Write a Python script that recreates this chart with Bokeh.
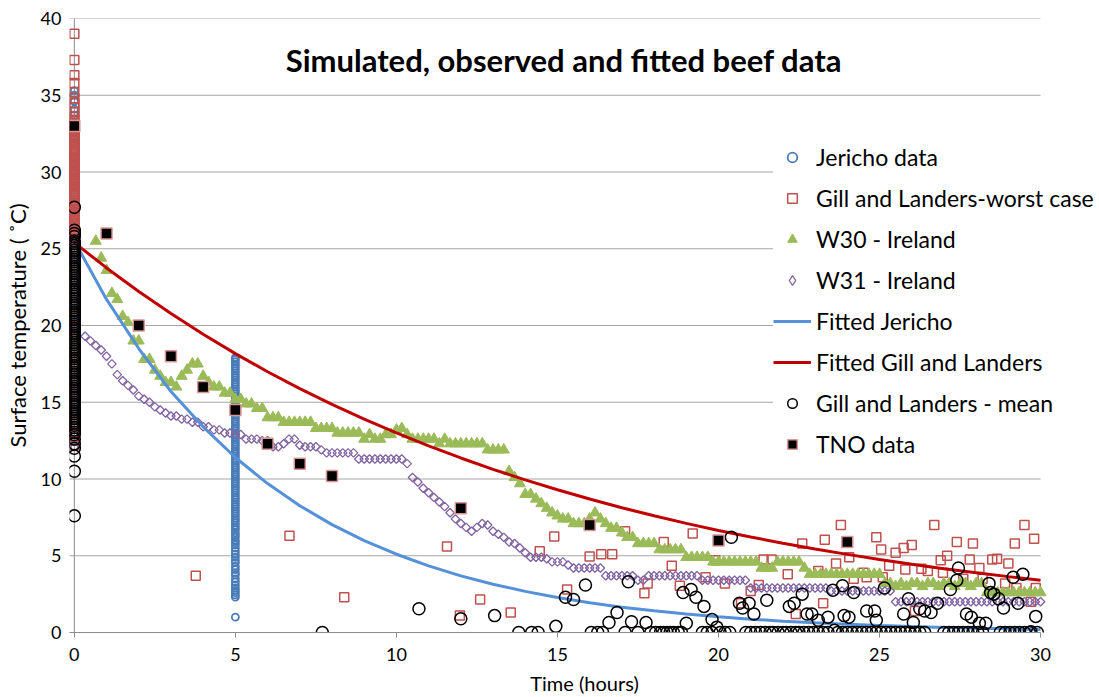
from bokeh.plotting import figure
from bokeh.models import Range1d, FixedTicker, Legend, LegendItem, Label, Span
from bokeh.embed import file_html
from bokeh.resources import INLINE

FONT = "Lato"

# ---------------- data ----------------
x_ticks = [0, 5, 10, 15, 20, 25, 30]
y_ticks = [0, 5, 10, 15, 20, 25, 30, 35, 40]
x_axis_end = 30

# Jericho data: readings at t = 0 h and t = 5 h
jericho_y0 = [12.1, 12.6, 13.0, 13.5, 14.1, 14.6, 15.0, 15.5, 16.1, 16.6, 17.0, 17.5, 18.0,
              18.6, 19.1, 19.5, 20.0, 20.6, 21.0, 21.5, 22.1, 22.5, 23.0, 23.6, 24.0, 24.5,
              25.0, 25.5, 26.1, 26.6, 27.0, 27.5, 28.0, 28.6, 29.1, 29.5, 30.0, 30.6, 31.0,
              31.4, 31.9, 32.3, 32.8, 33.2, 33.7, 34.1, 34.6, 35.0, 35.3]
jericho_y5 = [1.0, 2.3, 2.45, 2.6, 2.75, 2.9, 3.1, 3.3, 3.5, 3.75, 3.9, 4.1, 4.3, 4.55, 4.7,
              4.9, 5.1, 5.3, 5.5, 5.7, 5.85, 6.0, 6.2, 6.35, 6.5, 6.7, 6.85, 7.0, 7.15, 7.3,
              7.45, 7.6, 7.75, 7.9, 8.05, 8.2, 8.35, 8.5, 8.65, 8.8, 8.95, 9.1, 9.25, 9.4,
              9.55, 9.7, 9.85, 10.0, 10.15, 10.3, 10.45, 10.6, 10.75, 10.9, 11.05, 11.2,
              11.35, 11.5, 11.65, 11.8, 11.95, 12.1, 12.25, 12.4, 12.55, 12.7, 12.85, 13.0,
              13.15, 13.3, 13.45, 13.6, 13.75, 13.9, 14.05, 14.2, 14.35, 14.5, 14.65, 14.8,
              14.95, 15.1, 15.25, 15.4, 15.55, 15.7, 15.85, 16.0, 16.15, 16.3, 16.45, 16.6,
              16.75, 16.9, 17.05, 17.2, 17.35, 17.5, 17.65, 17.8, 17.9]

# Gill and Landers - worst case: readings at t = 0 and scattered later readings
gill_worst_y0 = [39.0, 37.3, 36.3, 35.8, 35.2, 34.8, 34.5, 34.2, 33.9, 33.6, 33.4,
                 33.2, 33.1, 33.0, 32.9, 32.8, 32.7, 32.6, 32.5, 32.4, 32.3, 32.2, 32.1,
                 32.0, 31.9, 31.8, 31.7, 31.6, 31.5, 31.4, 31.3, 31.2, 31.1, 31.0, 30.9,
                 30.8, 30.7, 30.6, 30.5, 30.4, 30.3, 30.2, 30.1, 30.0, 29.9, 29.8, 29.7,
                 29.6, 29.5, 29.4, 29.3, 29.2, 29.1, 29.0, 28.9, 28.8, 28.7, 28.6, 28.5,
                 28.4, 28.3, 28.2, 28.1, 28.0, 27.9, 27.8, 27.7, 27.6, 27.5, 27.4, 27.3,
                 27.2, 27.1, 27.0, 26.9, 26.8, 26.7, 26.6, 26.5, 26.4, 26.3, 26.2, 26.1,
                 26.0, 25.7, 25.4, 25.1, 24.8, 24.5, 24.2, 23.9,
                 23.6, 23.3, 23.0, 22.7, 22.4, 22.1, 21.8, 21.5, 21.2, 20.9, 20.6, 20.3,
                 20.0, 19.7, 19.4, 19.1, 18.8, 18.5, 18.2, 17.9, 17.6, 17.3, 17.0, 16.7,
                 16.4, 16.1, 15.8, 15.5, 15.2, 14.9, 14.6, 14.3, 14.0, 13.7, 13.4, 13.1,
                 12.8, 12.5, 12.2]
gill_worst_t = [3.77, 6.68, 8.38, 11.57, 11.97, 12.6, 13.55, 14.45, 14.9, 15.3, 16.0, 16.36,
                16.7, 17.1, 17.7, 17.8, 18.3, 18.55, 18.8, 19.2, 19.6, 19.9, 20.2, 20.7,
                21.0, 21.25, 21.4, 21.65, 22.15, 22.4, 22.6, 23.1, 23.25, 23.3, 23.65,
                23.8, 24.06, 24.2, 24.5, 24.6, 24.9, 25.05, 25.1, 25.3, 25.5, 25.75, 25.8,
                26.0, 26.1, 26.3, 26.5, 26.7, 26.9, 26.97, 27.1, 27.4, 27.6, 27.8, 27.9,
                28.1, 28.2, 28.5, 28.65, 28.9, 29.0, 29.2, 29.25, 29.5, 29.7, 29.8, 29.85]
gill_worst_y = [3.7, 6.3, 2.3, 5.6, 1.1, 2.15, 1.3, 5.3, 6.25, 2.8, 4.95, 5.1,
                5.1, 6.6, 2.55, 3.2, 5.9, 4.35, 3.05, 6.45, 3.6, 4.7, 3.2, 1.9,
                2.7, 3.1, 4.75, 4.75, 3.8, 1.2, 5.8, 4.0, 1.9, 6.05, 4.5,
                7.0, 4.9, 3.5, 3.9, 3.6, 6.2, 5.4, 3.6, 4.35, 5.2, 5.5, 4.1,
                5.7, 1.4, 4.15, 4.0, 7.0, 4.7, 3.9, 5.0, 5.9, 3.5, 4.75, 5.8,
                4.2, 3.5, 4.75, 4.8, 3.2, 4.5, 5.8, 2.9, 7.0, 2.0, 6.1, 2.9]

# W30 - Ireland: 10-minute readings starting at 0.667 h
w30_start = 0.667
w30_step = 1 / 6
w30_y = [25.5, 24.4, 23.6, 22.1, 21.7, 20.6,
         20.2, 19.0, 19.0, 17.8, 17.8, 17.1,
         16.7, 16.3, 16.3, 16.0, 16.7, 17.1,
         17.5, 17.5, 16.7, 16.3, 16.0, 16.0,
         15.6, 15.6, 15.2, 15.2, 14.9, 14.9,
         14.6, 14.6, 14.0, 14.0, 14.0, 13.7,
         13.7, 13.7, 13.7, 13.7, 13.7, 13.3,
         13.3, 13.3, 13.3, 13.0, 13.0, 13.0,
         13.0, 13.0, 12.6, 12.9, 12.6, 12.6,
         12.9, 12.9, 13.2, 13.3, 12.9, 12.6,
         12.6, 12.6, 12.6, 12.6, 12.3, 12.6,
         12.3, 12.3, 12.3, 12.3, 12.3, 12.3,
         12.3, 11.9, 11.9, 11.9, 11.9, 10.5,
         10.1, 9.7, 9.0, 9.0, 8.7, 8.4,
         8.1, 7.8, 7.6, 7.4, 7.4, 7.1,
         7.1, 7.1, 7.4, 7.8, 7.4, 7.1,
         6.8, 6.8, 6.5, 6.2, 6.2, 5.8,
         5.8, 5.8, 5.8, 5.4, 5.4, 5.4,
         5.4, 5.4, 4.9, 4.9, 4.9, 4.9,
         4.9, 4.6, 4.6, 4.6, 4.6, 4.6,
         4.6, 4.6, 4.6, 4.6, 4.2, 4.2,
         4.2, 4.6, 4.6, 4.6, 4.6, 4.6,
         4.2, 3.8, 3.8, 3.8, 3.8, 3.8,
         3.8, 3.8, 3.8, 3.8, 3.8, 3.8,
         3.8, 3.8, 3.8, 3.2, 3.2, 3.0,
         3.2, 3.0, 3.2, 3.2, 3.0, 3.2,
         3.2, 3.0, 3.2, 3.2, 3.0, 3.2,
         3.2, 3.0, 3.2, 3.2, 2.6, 2.6,
         2.6, 2.6, 2.6, 2.6, 2.6, 2.6,
         2.6, 2.6, 2.6]

# W31 - Ireland: 10-minute readings starting at 0.333 h
w31_start = 0.333
w31_step = 1 / 6
w31_y = [19.3, 19.0, 18.7, 18.4, 18.0, 17.5,
         16.8, 16.4, 16.1, 15.8, 15.4, 15.2,
         15.0, 14.7, 14.5, 14.3, 14.1, 14.1,
         13.9, 13.9, 13.7, 13.7, 13.4, 13.4,
         13.2, 13.2, 13.0, 13.0, 12.9, 12.9,
         12.6, 12.6, 12.6, 12.5, 12.5, 12.1,
         12.1, 12.3, 12.6, 12.6, 12.2, 12.1,
         12.1, 12.1, 11.9, 11.7, 11.7, 11.7,
         11.7, 11.7, 11.7, 11.3, 11.3, 11.3,
         11.3, 11.3, 11.3, 11.3, 11.3, 11.3,
         11.0, 10.1, 9.8, 9.4, 9.1, 8.8,
         8.5, 8.2, 7.8, 7.4, 7.1, 6.85,
         6.6, 6.85, 7.1, 7.0, 6.6, 6.4,
         6.2, 5.9, 5.8, 5.5, 5.2, 4.9,
         4.9, 4.9, 4.8, 4.6, 4.6, 4.6,
         4.4, 4.2, 4.2, 4.2, 4.2, 4.2,
         4.2, 3.7, 3.7, 3.7, 3.7, 3.7,
         3.7, 3.4, 3.4, 3.7, 3.7, 3.7,
         3.7, 3.7, 3.7, 3.7, 3.7, 3.7,
         3.7, 3.4, 3.4, 3.4, 3.4, 3.4,
         3.4, 3.4, 3.4, 3.4, 2.9, 2.9,
         2.9, 2.9, 2.9, 2.9, 2.9, 2.9,
         2.9, 2.9, 2.9, 2.9, 2.9, 2.9,
         2.9, 2.7, 2.7, 2.7, 2.7, 2.7,
         2.7, 2.7, 2.7, 2.7, 2.7, 2.7,
         2.7, 2.0, 2.0, 2.0, 2.0, 2.0,
         2.0, 2.0, 2.0, 2.0, 2.0, 2.0,
         2.0, 2.0, 2.0, 2.0, 2.0, 2.0,
         2.0, 2.0, 2.0, 2.0, 2.0, 2.0,
         2.0, 2.0, 2.0, 2.0, 2.0]

# Fitted curves, read hourly
fit_t = list(range(0, 31))
fit_jericho = [25.5, 21.7, 18.5, 15.7, 13.4, 11.4, 9.7, 8.26, 7.03, 5.99, 5.1, 4.34, 3.69,
               3.14, 2.68, 2.28, 1.94, 1.65, 1.41, 1.2, 1.02, 0.87, 0.74, 0.63, 0.54, 0.46,
               0.39, 0.33, 0.28, 0.24, 0.2]
fit_gill = [25.4, 23.75, 22.22, 20.78, 19.43, 18.17, 16.99, 15.89, 14.86, 13.9, 13.0, 12.16,
            11.37, 10.63, 9.94, 9.3, 8.7, 8.13, 7.61, 7.11, 6.65, 6.22, 5.82, 5.44, 5.09,
            4.76, 4.45, 4.16, 3.89, 3.64, 3.4]

# Gill and Landers - mean: readings at t = 0 and scattered later readings
gill_mean_y0 = [7.6, 10.5, 11.5, 12.0, 12.3, 12.6, 12.9,
                13.05, 13.2, 13.35, 13.5, 13.65, 13.8, 13.95, 14.1, 14.25, 14.4, 14.55,
                14.7, 14.85, 15.0, 15.15, 15.3, 15.45, 15.6, 15.75, 15.9, 16.05, 16.2,
                16.35, 16.5, 16.65, 16.8, 16.95, 17.1, 17.25, 17.4, 17.55, 17.7, 17.85,
                18.0, 18.15, 18.3, 18.45, 18.6, 18.75, 18.9, 19.05, 19.2, 19.35, 19.5,
                19.65, 19.8, 19.95, 20.1, 20.25, 20.4, 20.55, 20.7, 20.85, 21.0, 21.15,
                21.3, 21.45, 21.6, 21.75, 21.9, 22.05, 22.2, 22.35, 22.5, 22.65, 22.8,
                22.95, 23.1, 23.25, 23.4, 23.55, 23.7, 23.85, 24.0, 24.15, 24.3, 24.45,
                24.6, 24.75, 24.9, 25.05, 25.2, 25.35, 25.5, 25.8, 26.0, 26.2, 27.7]
gill_mean_t = [7.7, 10.7, 12.0, 13.05, 13.8, 14.2, 14.4, 14.95, 15.25, 15.5, 15.87, 16.05,
               16.25, 16.4, 16.6, 16.85, 17.1, 17.2, 17.3, 17.5, 17.75, 17.9, 18.05, 18.2,
               18.3, 18.4, 18.5, 18.6, 18.75, 18.85, 18.9, 19.0, 19.15, 19.3, 19.55, 19.5,
               19.65, 19.8, 19.8, 19.95, 20.05, 20.2, 20.35, 20.4, 20.65, 20.75, 20.85,
               20.95, 21.0, 21.1, 21.15, 21.3, 21.45, 21.5, 21.6, 21.7, 21.85, 22.0, 22.1,
               22.2, 22.25, 22.35, 22.4, 22.5, 22.6, 22.65, 22.75, 22.8, 22.9, 22.95,
               23.1, 23.1, 23.25, 23.4, 23.4, 23.55, 23.6, 23.7, 23.85, 23.85, 23.9, 24.0,
               24.05, 24.15, 24.2, 24.3, 24.45, 24.6, 24.6, 24.75, 24.85, 24.9, 24.9, 25.05,
               25.15, 25.2, 25.35, 25.5, 25.65, 25.75, 25.8, 25.9, 25.95, 26.05, 26.1,
               26.25, 26.25, 26.4, 26.4, 26.6, 26.8, 27.0, 27.15, 27.2, 27.3, 27.4, 27.45,
               27.45, 27.6, 27.7, 27.75, 27.85, 27.9, 28.05, 28.1, 28.2, 28.3, 28.4, 28.45,
               28.55, 28.7, 28.75, 28.85, 28.9, 29.05, 29.15, 29.2, 29.3, 29.35, 29.45,
               29.5, 29.65, 29.7, 29.85, 29.9]
gill_mean_y = [0.0, 1.55, 0.9, 1.1, 0.0, 0.0, 0.0, 0.4, 2.3, 2.15, 3.1, 0.0,
               0.0, 0.0, 0.65, 1.3, 0.0, 3.3, 0.7, 0.0, 0.65, 0.0, 0.0, 0.0,
               0.0, 0.0, 0.0, 0.0, 0.0, 0.0, 2.6, 0.6, 2.8, 2.3, 1.7, 0.0,
               0.0, 0.85, 0.0, 0.35, 0.0, 0.0, 0.0, 6.2, 1.9, 1.6, 0.0,
               1.9, 0.0, 1.2, 0.0, 0.0, 0.0, 2.1, 0.0, 0.0, 0.0, 0.0, 0.0,
               1.7, 0.0, 1.9, 0.0, 0.0, 2.5, 0.0, 1.2, 0.0, 1.2, 0.0,
               0.8, 0.0, 0.0, 1.0, 0.0, 2.75, 0.15, 0.0, 3.05, 0.0, 1.1, 0.0,
               1.0, 0.0, 2.6, 0.0, 0.0, 1.4, 0.0, 0.0, 1.4, 0.8, 0.0, 0.0,
               2.9, 0.0, 0.0, 0.0, 0.0, 1.2, 0.0, 2.2, 0.0, 0.65, 0.0,
               1.55, 0.0, 1.4, 0.0, 1.3, 1.9, 0.0, 0.0, 2.8, 0.0, 3.4, 4.2,
               0.0, 0.0, 1.2, 0.0, 1.0, 0.0, 0.0, 0.6, 0.0, 0.6, 3.2, 2.6,
               2.5, 2.2, 0.0, 1.6, 0.0, 0.0, 3.6, 0.0, 1.9, 0.0, 3.8,
               0.0, 0.0, 0.05, 1.05, 0.0]

# TNO data
tno_t = [0, 1, 2, 3, 4, 5, 6, 7, 8, 12, 16, 20, 24]
tno_y = [33.0, 26.0, 20.0, 18.0, 16.0, 14.5, 12.3, 11.0, 10.2, 8.1, 7.0, 6.0, 5.9]

title_text = "Simulated, observed and fitted beef data"
x_label = "Time (hours)"
y_label = "Surface temperature ( \u02daC)"

# ---------------- assemble series ----------------
jericho_t = [0.0] * len(jericho_y0) + [5.0] * len(jericho_y5)
jericho_y = jericho_y0 + jericho_y5
gw_t = [0.0] * len(gill_worst_y0) + gill_worst_t
gw_y = gill_worst_y0 + gill_worst_y
w30_t = [round(w30_start + i * w30_step, 3) for i in range(len(w30_y))]
w31_t = [round(w31_start + i * w31_step, 3) for i in range(len(w31_y))]
gm_t = [0.0] * len(gill_mean_y0) + gill_mean_t
gm_y = gill_mean_y0 + gill_mean_y

AXIS_GREY = "#8C8C8C"
GRID_GREY = "#A6A6A6"
X_START = -0.15   # a little room left of t = 0 so markers there are not cut
X_END = 31.83     # frame runs on under the legend, which overhangs the 30 h edge

# ---------------- figure ----------------
p = figure(width=1099, height=697, x_range=Range1d(X_START, X_END), y_range=Range1d(0, 40),
           output_backend="svg", toolbar_location=None,
           min_border_left=66, min_border_right=0, min_border_top=18, min_border_bottom=65)
p.outline_line_color = None
p.xgrid.grid_line_color = None
p.ygrid.grid_line_color = None

for ax, ticks in ((p.xaxis, x_ticks), (p.yaxis, y_ticks)):
    ax.ticker = FixedTicker(ticks=ticks)
    ax.axis_line_color = AXIS_GREY
    ax.major_tick_line_color = AXIS_GREY
    ax.major_tick_out = 5
    ax.major_tick_in = 0
    ax.minor_tick_line_color = None
    ax.major_label_text_font = FONT
    ax.major_label_text_font_size = "18px"
    ax.major_label_text_color = "#000000"
    ax.axis_label_text_font = FONT
    ax.axis_label_text_font_style = "normal"
    ax.axis_label_text_color = "#000000"

p.xaxis.bounds = (X_START, x_axis_end)
p.xaxis.axis_label_text_font_size = "20px"
p.yaxis.axis_label_text_font_size = "22px"
p.yaxis.axis_line_color = None
p.yaxis.major_tick_out = 0
p.xaxis.axis_label = x_label
p.yaxis.axis_label = y_label
p.xaxis.major_label_standoff = 10
p.xaxis.axis_label_standoff = 7
p.yaxis.major_label_standoff = 8
p.yaxis.axis_label_standoff = 7

# horizontal gridlines (stop at 30 h) and vertical axis line at t = 0
grid_y = [v for v in y_ticks if v > 0]
p.segment(x0=[X_START] * len(grid_y), y0=grid_y, x1=[x_axis_end] * len(grid_y), y1=grid_y,
          line_color=GRID_GREY, line_width=1, level="underlay")
p.add_layout(Span(location=0, dimension="height", line_color=AXIS_GREY, line_width=1,
                  level="underlay"))

r_jer = p.scatter(jericho_t, jericho_y, marker="circle", size=7, fill_color=None,
                  line_color="#4A7CB8", line_width=1.8)
r_gw = p.scatter(gw_t, gw_y, marker="square", size=9, fill_color=None,
                 line_color="#C0504D", line_width=1.5)
r_w30 = p.scatter(w30_t, w30_y, marker="triangle", size=11, fill_color="#9BBB59",
                  line_color="#9BBB59", line_width=1)
r_w31 = p.scatter(w31_t, w31_y, marker="square", angle=0.7854, size=6, fill_color=None,
                  line_color="#8064A2", line_width=1.3)
# hidden twin of the W31 series, used only for its diamond legend key
r_w31_key = p.scatter(w31_t, w31_y, marker="diamond", size=9, fill_color=None,
                      line_color="#8064A2", line_width=1.3, visible=False)
r_fj = p.line(fit_t, fit_jericho, line_color="#5591D8", line_width=3)
r_fg = p.line(fit_t, fit_gill, line_color="#C00000", line_width=3)
r_gm = p.scatter(gm_t, gm_y, marker="circle", size=12, fill_color=None,
                 line_color="#000000", line_width=1.5)
r_tno = p.scatter(tno_t, tno_y, marker="square", size=11, fill_color="#000000",
                  line_color="#D99694", line_width=1.5)

title = Label(x=15.2, y=37.3, text=title_text, text_font=FONT, text_font_style="bold",
              text_font_size="31px", text_align="center", text_baseline="middle",
              text_color="#000000")
p.add_layout(title)

legend = Legend(items=[
    LegendItem(label="Jericho data", renderers=[r_jer]),
    LegendItem(label="Gill and Landers-worst case", renderers=[r_gw]),
    LegendItem(label="W30 - Ireland", renderers=[r_w30]),
    LegendItem(label="W31 - Ireland", renderers=[r_w31_key]),
    LegendItem(label="Fitted Jericho", renderers=[r_fj]),
    LegendItem(label="Fitted Gill and Landers", renderers=[r_fg]),
    LegendItem(label="Gill and Landers - mean", renderers=[r_gm]),
    LegendItem(label="TNO data", renderers=[r_tno]),
], location=(704, 174))
legend.label_text_font = FONT
legend.label_text_font_size = "23px"
legend.label_text_color = "#000000"
legend.glyph_width = 38
legend.glyph_height = 24
legend.label_height = 28
legend.spacing = 13
legend.padding = 5
legend.margin = 0
legend.label_standoff = 5
legend.border_line_color = None
legend.background_fill_color = "white"
legend.background_fill_alpha = 1.0
legend.inactive_fill_alpha = 0.0
legend.click_policy = "none"
p.add_layout(legend)

open("out.html", "w").write(file_html(p, INLINE))
